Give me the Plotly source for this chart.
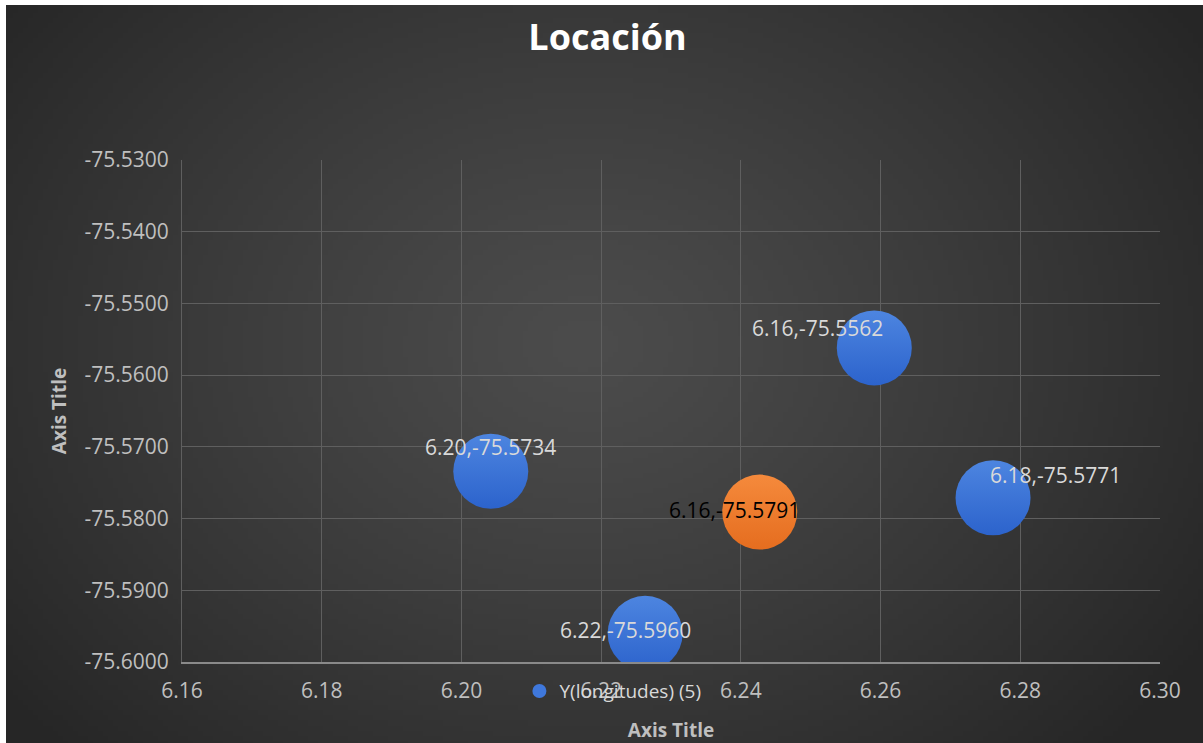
import base64, zlib, struct
import numpy as np
import plotly.graph_objects as go

# ---- data ----
x_blue = [6.2042, 6.2263, 6.2591, 6.2761]
y_blue = [-75.5734, -75.5960, -75.5562, -75.5771]
labels_blue = ["6.20,-75.5734", "6.22,-75.5960", "6.16,-75.5562", "6.18,-75.5771"]
x_orange = [6.2427]
y_orange = [-75.5791]
labels_orange = ["6.16,-75.5791"]
x_ticks = [6.16, 6.18, 6.20, 6.22, 6.24, 6.26, 6.28, 6.30]
y_ticks = [-75.53, -75.54, -75.55, -75.56, -75.57, -75.58, -75.59, -75.60]
series_name = "Y(longitudes) (5)"
title_text = "Locación"

# label pixel offsets (style)
lbl_shift_blue = [(0, 24), (-20, 3), (-57, 20), (62, 23)]
lbl_shift_orange = [(-25, 2)]

# ---- radial gradient background as png ----
def make_png(w, h):
    yy, xx = np.mgrid[0:h, 0:w]
    cx, cy = w * 0.48, h * 0.45
    d = np.sqrt(((xx - cx) / (w * 0.62)) ** 2 + ((yy - cy) / (h * 0.78)) ** 2)
    d = np.clip(d, 0, 1)
    v = (76 - (76 - 38) * d ** 1.2).astype(np.uint8)
    raw = b"".join(b"\x00" + bytes(np.stack([row, row, row], axis=1).flatten()) for row in v)
    def chunk(t, data):
        c = struct.pack(">I", len(data)) + t + data
        return c + struct.pack(">I", zlib.crc32(t + data) & 0xffffffff)
    png = b"\x89PNG\r\n\x1a\n" + chunk(b"IHDR", struct.pack(">IIBBBBB", w, h, 8, 2, 0, 0, 0))
    png += chunk(b"IDAT", zlib.compress(raw, 9)) + chunk(b"IEND", b"")
    return "data:image/png;base64," + base64.b64encode(png).decode()

bg = make_png(240, 148)

W, H = 1203, 743
FONT = "Open Sans"
fig = go.Figure()

fig.add_trace(go.Scatter(
    x=x_blue, y=y_blue, mode="markers", name=series_name,
    marker=dict(size=75, color="#4d85e0", line=dict(width=0),
                gradient=dict(type="vertical", color="#2c63cc")),
    showlegend=False, hoverinfo="skip"))
fig.add_trace(go.Scatter(
    x=x_orange, y=y_orange, mode="markers", name="orange",
    marker=dict(size=75, color="#f58a3c", line=dict(width=0),
                gradient=dict(type="vertical", color="#e56d1f")),
    showlegend=False, hoverinfo="skip"))
# legend entry with small marker
fig.add_trace(go.Scatter(
    x=[None], y=[None], mode="markers", name=series_name,
    marker=dict(size=14, color="#3f78dc"), showlegend=True))

for xv, yv, t, (dx, dy) in zip(x_blue, y_blue, labels_blue, lbl_shift_blue):
    fig.add_annotation(x=xv, y=yv, text=t, showarrow=False, xshift=dx, yshift=dy,
                       font=dict(family=FONT, size=21, color="#d9d9d9"))
for xv, yv, t, (dx, dy) in zip(x_orange, y_orange, labels_orange, lbl_shift_orange):
    fig.add_annotation(x=xv, y=yv, text=t, showarrow=False, xshift=dx, yshift=dy,
                       font=dict(family=FONT, size=21, color="#000000"))

axis_font = dict(family=FONT, size=21, color="#bfbfbf")
title_font = dict(family=FONT, size=19, color="#bfbfbf")
fig.update_layout(
    width=W, height=H,
    paper_bgcolor="white", plot_bgcolor="rgba(0,0,0,0)",
    margin=dict(l=182, r=43, t=160, b=81, autoexpand=False),
    title=dict(text="<b>" + title_text + "</b>", x=0.505, xanchor="center", y=0.95, yanchor="middle",
               font=dict(family=FONT, size=36, color="#ffffff")),
    images=[dict(source=bg, xref="paper", yref="paper", x=-176/978, y=1 + 155/502,
                 sizex=(1203 - 4) / 978, sizey=(743 + 5) / 502,
                 xanchor="left", yanchor="top", sizing="stretch", layer="below")],
    xaxis=dict(range=[6.16, 6.30], tickvals=x_ticks, ticktext=[f"{v:.2f}" for v in x_ticks],
               showgrid=True, gridcolor="#5f5f5f", gridwidth=1, zeroline=False,
               showline=True, linecolor="#8a8a8a", linewidth=2, ticks="",
               tickfont=axis_font, ticklabelstandoff=9, automargin=False,
               title=dict(text="<b>Axis Title</b>", font=title_font, standoff=37)),
    yaxis=dict(range=[-75.60, -75.53], tickvals=y_ticks, ticktext=[f"{v:.4f}" for v in y_ticks],
               showgrid=True, gridcolor="#5f5f5f", gridwidth=1, zeroline=False,
               showline=True, linecolor="#5f5f5f", linewidth=1, ticks="",
               tickfont=axis_font, ticklabelstandoff=8, automargin=False,
               title=dict(text="<b>Axis Title</b>", font=title_font, standoff=12)),
    legend=dict(orientation="h", x=0.345, y=-0.058, xanchor="left", yanchor="middle",
                bgcolor="rgba(0,0,0,0)", font=dict(family=FONT, size=19, color="#d9d9d9"),
                itemwidth=30, itemsizing="trace"),
    showlegend=True,
)
fig.write_html("out.html")
